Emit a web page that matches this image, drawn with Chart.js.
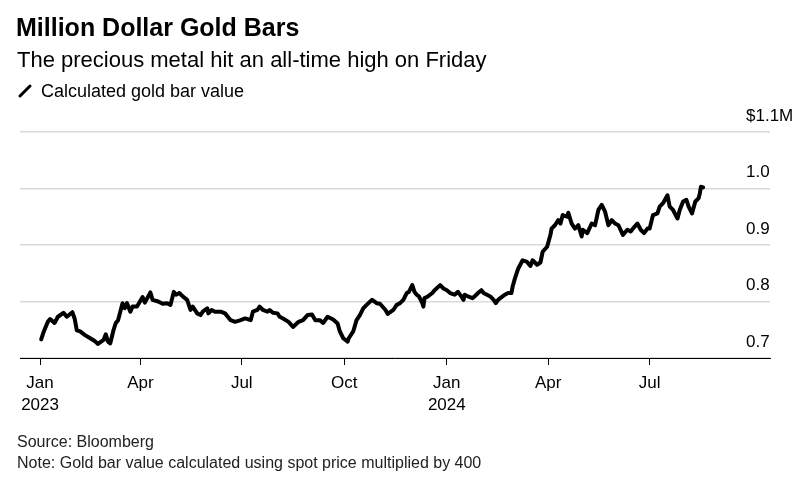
<!DOCTYPE html>
<html>
<head>
<meta charset="utf-8">
<script src="https://cdn.jsdelivr.net/npm/chart.js@4.4.1/dist/chart.umd.min.js"></script>
<style>
  body { margin: 0; background: #fff; font-family: "Liberation Sans", Arial, sans-serif; color: #000; }
  #wrap { position: relative; width: 807px; height: 480px; overflow: hidden; }
  #wrap canvas { position: absolute; left: 0; top: 0; }
  .t { position: absolute; white-space: nowrap; line-height: 1; }
  #title { left: 16px; top: 15px; font-size: 25px; font-weight: bold; }
  #sub { left: 17px; top: 49px; font-size: 22px; }
  #legend { left: 41px; top: 82px; font-size: 18px; }
  #key { position: absolute; left: 17px; top: 82px; }
  #source { left: 17px; top: 434px; font-size: 16px; color: #222; }
  #note { left: 17px; top: 455px; font-size: 16px; color: #222; }
</style>
</head>
<body>
<div id="wrap">
  <canvas id="chart"></canvas>
  <div class="t" id="title">Million Dollar Gold Bars</div>
  <div class="t" id="sub">The precious metal hit an all-time high on Friday</div>
  <svg id="key" width="18" height="18"><line x1="3" y1="14" x2="13" y2="4" stroke="#000" stroke-width="3" stroke-linecap="round"/></svg>
  <div class="t" id="legend">Calculated gold bar value</div>
  <div class="t" id="source">Source: Bloomberg</div>
  <div class="t" id="note">Note: Gold bar value calculated using spot price multiplied by 400</div>
</div>
<script>
// days since 1 Jan 2023
const days = [
  1, 3, 7, 9, 13, 16, 21, 24, 29, 31, 33, 36, 40, 45, 49, 52, 57, 59, 61, 63,
  66, 68, 70, 74, 76, 78, 81, 83, 87, 92, 94, 99, 101, 106, 110, 114, 117, 120, 122, 125,
  128, 132, 135, 137, 141, 144, 146, 150, 151, 154, 157, 162, 166, 171, 175, 180, 184, 189, 191, 195,
  197, 200, 204, 206, 209, 213, 215, 218, 223, 227, 232, 236, 240, 244, 247, 251, 254, 258, 263, 267,
  269, 272, 276, 277, 281, 284, 287, 290, 293, 298, 302, 305, 310, 312, 317, 320, 323, 326, 329, 331,
  334, 336, 338, 340, 343, 344, 345, 348, 352, 354, 359, 362, 365, 368, 372, 375, 378, 380, 381, 384,
  388, 390, 393, 396, 398, 401, 404, 407, 409, 411, 415, 417, 420, 423, 424, 426, 429, 433, 437, 440,
  442, 446, 449, 451, 455, 458, 459, 462, 465, 467, 469, 473, 474, 477, 480, 483, 486, 487, 491, 495,
  498, 501, 504, 507, 510, 513, 516, 519, 523, 527, 530, 532, 536, 539, 542, 545, 547, 550, 554, 556,
  559, 563, 565, 568, 572, 574, 577, 580, 582, 585, 588, 591, 592, 593, 595
];

// gold bar value, $ millions
const values = [
  0.733, 0.745, 0.764, 0.769, 0.762, 0.773, 0.780, 0.773, 0.781, 0.770, 0.749, 0.747, 0.741, 0.735, 0.730, 0.725, 0.732, 0.742, 0.729, 0.726,
  0.750, 0.762, 0.767, 0.797, 0.788, 0.797, 0.782, 0.791, 0.791, 0.808, 0.798, 0.816, 0.803, 0.800, 0.796, 0.797, 0.794, 0.817, 0.812, 0.815,
  0.809, 0.803, 0.785, 0.791, 0.779, 0.776, 0.782, 0.788, 0.779, 0.785, 0.782, 0.782, 0.779, 0.767, 0.764, 0.767, 0.770, 0.767, 0.782, 0.785,
  0.791, 0.785, 0.782, 0.785, 0.780, 0.779, 0.773, 0.770, 0.764, 0.755, 0.764, 0.767, 0.776, 0.777, 0.767, 0.767, 0.762, 0.773, 0.768, 0.761,
  0.747, 0.735, 0.729, 0.735, 0.747, 0.767, 0.776, 0.788, 0.794, 0.803, 0.797, 0.796, 0.785, 0.778, 0.785, 0.794, 0.797, 0.803, 0.815, 0.817,
  0.829, 0.817, 0.812, 0.809, 0.797, 0.791, 0.806, 0.809, 0.815, 0.820, 0.829, 0.823, 0.820, 0.815, 0.812, 0.817, 0.809, 0.803, 0.812, 0.809,
  0.806, 0.809, 0.815, 0.820, 0.815, 0.812, 0.809, 0.803, 0.797, 0.803, 0.809, 0.812, 0.815, 0.815, 0.826, 0.840, 0.858, 0.873, 0.870, 0.863,
  0.873, 0.865, 0.869, 0.888, 0.897, 0.918, 0.929, 0.935, 0.944, 0.938, 0.953, 0.950, 0.957, 0.938, 0.929, 0.935, 0.915, 0.927, 0.921, 0.938,
  0.935, 0.962, 0.971, 0.959, 0.935, 0.944, 0.938, 0.935, 0.918, 0.927, 0.924, 0.929, 0.938, 0.927, 0.921, 0.929, 0.929, 0.953, 0.956, 0.968,
  0.974, 0.988, 0.968, 0.962, 0.947, 0.962, 0.977, 0.980, 0.968, 0.956, 0.977, 0.983, 0.991, 1.003, 1.002
];

const xTicks = [0, 90, 181, 273, 365, 456, 547];
const xTickLabels = [['Jan', '2023'], 'Apr', 'Jul', 'Oct', ['Jan', '2024'], 'Apr', 'Jul'];
const yTicks = [0.7, 0.8, 0.9, 1.0, 1.1];
const yTickLabels = ['0.7', '0.8', '0.9', '1.0', '$1.1M'];

const points = days.map((d, i) => ({ x: d, y: values[i] }));
const tickFont = { family: '"Liberation Sans", Arial, sans-serif', size: 17, lineHeight: 1.3 };

new Chart(document.getElementById('chart'), {
  type: 'line',
  data: {
    datasets: [{
      label: 'Calculated gold bar value',
      data: points,
      borderColor: '#000',
      borderWidth: 4,
      borderJoinStyle: 'round',
      borderCapStyle: 'round',
      pointRadius: 0,
      tension: 0,
      fill: false
    }]
  },
  options: {
    responsive: true,
    maintainAspectRatio: false,
    animation: false,
    layout: { padding: { top: 132, left: 20, right: 0, bottom: 62 } },
    plugins: { legend: { display: false }, tooltip: { enabled: false } },
    scales: {
      x: {
        type: 'linear',
        min: -18,
        max: 655,
        afterBuildTicks: (scale) => { scale.ticks = xTicks.map(v => ({ value: v })); },
        afterFit: (scale) => { scale.height = 60; },
        ticks: {
          autoSkip: false,
          maxRotation: 0,
          padding: 7,
          color: '#000',
          font: tickFont,
          callback: (v, i) => xTickLabels[i]
        },
        grid: { drawOnChartArea: false, drawTicks: true, tickLength: 7, color: '#000', lineWidth: 1 },
        border: { display: true, color: '#000', width: 1 }
      },
      y: {
        type: 'linear',
        position: 'right',
        min: 0.7,
        max: 1.1,
        afterBuildTicks: (scale) => { scale.ticks = yTicks.map(v => ({ value: v })); },
        afterFit: (scale) => {
          scale.width = 37;
          // labels sit over the grid lines, so don't clip them to the axis box
          scale._computeLabelArea = () => undefined;
        },
        ticks: {
          padding: -24,
          labelOffset: -16,
          crossAlign: 'near',
          color: '#000',
          font: tickFont,
          callback: (v, i) => yTickLabels[i]
        },
        grid: { drawTicks: false, color: '#d9d9d9', lineWidth: 1.5 },
        border: { display: false }
      }
    }
  }
});
</script>
</body>
</html>
